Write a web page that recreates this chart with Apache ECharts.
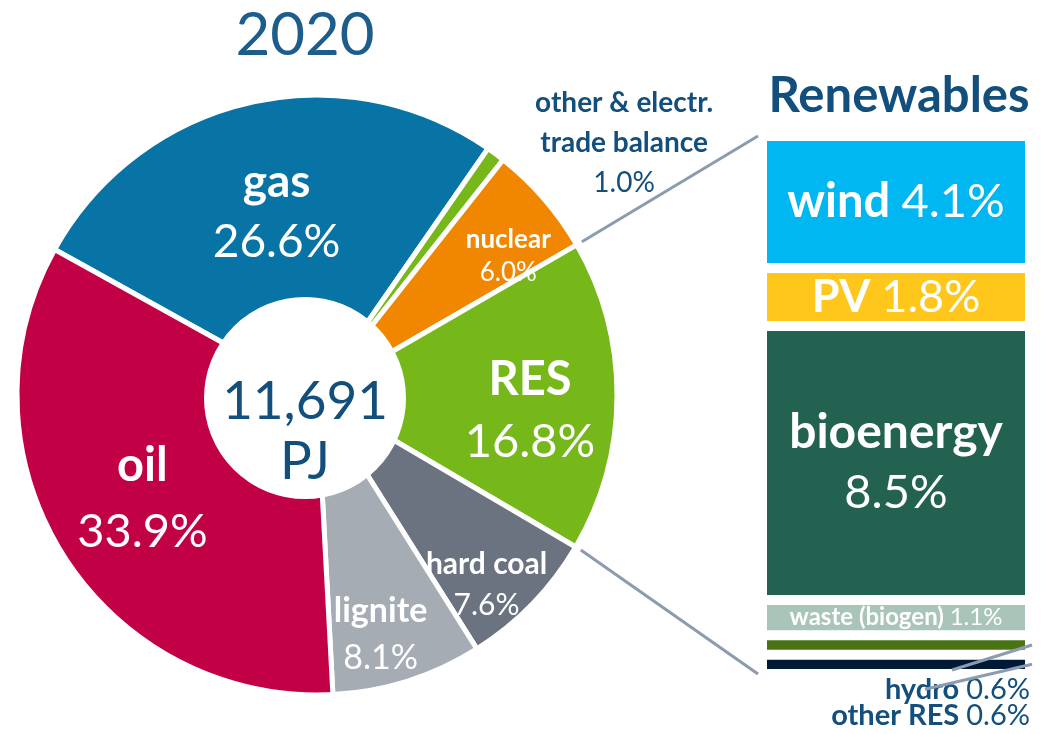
<!DOCTYPE html>
<html>
<head>
<meta charset="utf-8">
<script src="https://cdn.jsdelivr.net/npm/echarts@6/dist/echarts.min.js"></script>
<style>
html, body { margin: 0; padding: 0; background: #fff; }
#chart { width: 1058px; height: 734px; }
</style>
</head>
<body>
<div id="chart"></div>
<script>
// primary energy consumption 2020, shares in %
const mixNames = ['gas', 'other & electr. trade balance', 'nuclear', 'RES', 'hard coal', 'lignite', 'oil']
const mixShares = [26.6, 1.0, 6.0, 16.8, 7.6, 8.1, 33.9]
const totalPJ = 11691
const year = '2020'
// renewables breakdown, shares of total in %
const resNames = ['wind', 'PV', 'bioenergy', 'waste (biogen)', 'hydro', 'other RES']
const resShares = [4.1, 1.8, 8.5, 1.1, 0.6, 0.6]

const FONT = 'Lato, "Open Sans", sans-serif'
const DARK = '#134f7c'
const mixColors = ['#0874a6', '#76b81a', '#f18700', '#76b81a', '#6b7380', '#a6acb4', '#c20045']
const resColors = ['#00b7f1', '#ffc61c', '#236150', '#a9c4b8', '#4a7316', '#001a35']

const pieCenter = [317, 395]
const pieRadius = 300
const startAngle = 151

// label look per slice: font size, line height, shift from mid-radius point
const sliceLabel = {
  gas: { size: 46, lh: 60, shift: [5, 12] },
  'other & electr. trade balance': { size: 28, lh: 40, shift: [188, -91], dark: true },
  nuclear: { size: 26, lh: 33, shift: [40, -8] },
  RES: { size: 47, lh: 62, shift: [13, 15] },
  'hard coal': { size: 30, lh: 41, shift: [26, 51] },
  lignite: { size: 34, lh: 47, shift: [3, 49] },
  oil: { size: 47, lh: 66, shift: [-5, -2] }
}

const midAngle = (i) => {
  let before = 0
  for (let k = 0; k < i; k++) before += mixShares[k]
  const total = mixShares.reduce((a, b) => a + b, 0)
  return startAngle - (before + mixShares[i] / 2) / total * 360
}

const pct = (v) => v.toFixed(1) + '%'

const pieData = mixNames.map((name, i) => {
  const s = sliceLabel[name]
  const color = s.dark ? DARK : '#fff'
  let text = '{b|' + name + '}\n{v|' + pct(mixShares[i]) + '}'
  if (s.dark) text = '{b|other & electr.}\n{b|trade balance}\n{v|' + pct(mixShares[i]) + '}'
  return {
    name: name,
    value: mixShares[i],
    itemStyle: { color: mixColors[i] },
    label: {
      formatter: text,
      rich: {
        b: { fontFamily: FONT, fontWeight: 'bold', fontSize: s.size, lineHeight: s.lh, color: color },
        v: { fontFamily: FONT, fontSize: s.size, lineHeight: s.lh, color: color }
      }
    }
  }
})

const resTotal = resShares.reduce((a, b) => a + b, 0)

const barLabel = (i) => {
  const name = resNames[i]
  const v = pct(resShares[i])
  const white = { color: '#fff', fontFamily: FONT }
  if (name === 'bioenergy') {
    return {
      show: true, position: 'inside',
      formatter: '{b|' + name + '}\n{v|' + v + '}',
      rich: {
        b: { ...white, fontWeight: 'bold', fontSize: 48, lineHeight: 60 },
        v: { ...white, fontSize: 47, lineHeight: 60 }
      }
    }
  }
  if (name === 'hydro' || name === 'other RES') {
    const dark = { color: DARK, fontFamily: FONT }
    return {
      show: true,
      position: ['100%', name === 'hydro' ? 54 : 61],
      align: 'right', verticalAlign: 'middle',
      formatter: '{b|' + name + ' }{v|' + v + '}',
      rich: {
        b: { ...dark, fontWeight: 'bold', fontSize: 29 },
        v: { ...dark, fontSize: 29 }
      }
    }
  }
  const size = name === 'waste (biogen)' ? 24 : (name === 'PV' ? 45 : 47)
  return {
    show: true, position: 'inside',
    formatter: '{b|' + name + ' }{v|' + v + '}',
    rich: {
      b: { ...white, fontWeight: 'bold', fontSize: size },
      v: { ...white, fontSize: size }
    }
  }
}

const barSeries = resNames.map((name, i) => ({
  name: name,
  type: 'bar',
  stack: 'res',
  barWidth: 268,
  data: [resShares[i]],
  itemStyle: { color: resColors[i], borderColor: '#fff', borderWidth: 5 },
  label: barLabel(i),
  silent: true
}))

const chart = echarts.init(document.getElementById('chart'))

const option = {
  animation: false,
  backgroundColor: '#fff',
  grid: { left: 762, top: 136, width: 268, height: 538 },
  xAxis: { type: 'category', data: ['RES'], show: false },
  yAxis: { type: 'value', min: 0, max: resTotal, inverse: true, show: false },
  series: [
    {
      type: 'pie',
      center: pieCenter,
      radius: [0, pieRadius],
      startAngle: startAngle,
      clockwise: true,
      avoidLabelOverlap: false,
      silent: true,
      emphasis: { disabled: true },
      itemStyle: { borderColor: '#fff', borderWidth: 5 },
      label: { show: true, position: 'inside' },
      labelLine: { show: false },
      labelLayout: (params) => {
        const i = params.dataIndex
        const s = sliceLabel[mixNames[i]]
        const a = midAngle(i) * Math.PI / 180
        return {
          x: pieCenter[0] + 200 * Math.cos(a) + s.shift[0],
          y: pieCenter[1] - 200 * Math.sin(a) + s.shift[1],
          align: 'center',
          verticalAlign: 'middle'
        }
      },
      data: pieData
    },
    {
      type: 'pie',
      center: [305, 398],
      radius: [0, 100],
      silent: true,
      emphasis: { disabled: true },
      itemStyle: { color: '#fff', borderColor: '#fff', borderWidth: 2 },
      label: {
        show: true,
        position: 'center',
        formatter: '{n|' + totalPJ.toLocaleString('en-US') + '}\n{n|PJ}',
        rich: { n: { fontFamily: FONT, fontSize: 53, lineHeight: 60, color: DARK } }
      },
      labelLayout: () => ({ dy: 17 }),
      labelLine: { show: false },
      data: [{ name: 'total', value: totalPJ }]
    },
    ...barSeries
  ]
}

option && chart.setOption(option)

// connector and leader lines, placed from the drawn scales
const drawLines = () => {
  const top = chart.convertToPixel({ gridIndex: 0 }, [0, 0])
  const bottom = chart.convertToPixel({ gridIndex: 0 }, [0, resTotal])
  const barLeft = top[0] - 134
  const barRight = top[0] + 134
  const resIdx = mixNames.indexOf('RES')
  let before = 0
  for (let k = 0; k < resIdx; k++) before += mixShares[k]
  const a0 = (startAngle - before * 3.6) * Math.PI / 180
  const a1 = (startAngle - (before + mixShares[resIdx]) * 3.6) * Math.PI / 180
  const r = pieRadius + 6
  const p0 = [pieCenter[0] + r * Math.cos(a0), pieCenter[1] - r * Math.sin(a0)]
  const p1 = [pieCenter[0] + r * Math.cos(a1), pieCenter[1] - r * Math.sin(a1)]

  const hydroIdx = resNames.indexOf('hydro')
  let cum = 0
  for (let k = 0; k < hydroIdx; k++) cum += resShares[k]
  const hydroY = chart.convertToPixel({ gridIndex: 0 }, [0, cum + resShares[hydroIdx] / 2])[1]
  const otherY = chart.convertToPixel({ gridIndex: 0 }, [0, cum + resShares[hydroIdx] + resShares[hydroIdx + 1] / 2])[1]

  const line = (x1, y1, x2, y2) => ({
    type: 'line',
    shape: { x1, y1, x2, y2 },
    style: { stroke: '#8d9bb0', lineWidth: 3 },
    silent: true,
    z: 100
  })
  chart.setOption({
    graphic: [
      {
        type: 'text', x: 305, y: 36,
        style: { text: year, font: '60px ' + FONT, fill: '#1d5d8c', textAlign: 'center', textVerticalAlign: 'middle' }
      },
      {
        type: 'text', x: 899, y: 96,
        style: { text: 'Renewables', font: 'bold 49px ' + FONT, fill: DARK, textAlign: 'center', textVerticalAlign: 'middle' }
      },
      line(p0[0], p0[1], barLeft - 4, top[1]),
      line(p1[0], p1[1], barLeft - 4, bottom[1]),
      line(barRight + 2, hydroY, barRight - 78, hydroY + 25),
      line(barRight + 2, otherY, barRight - 105, otherY + 25)
    ]
  })
}
drawLines()
</script>
</body>
</html>
